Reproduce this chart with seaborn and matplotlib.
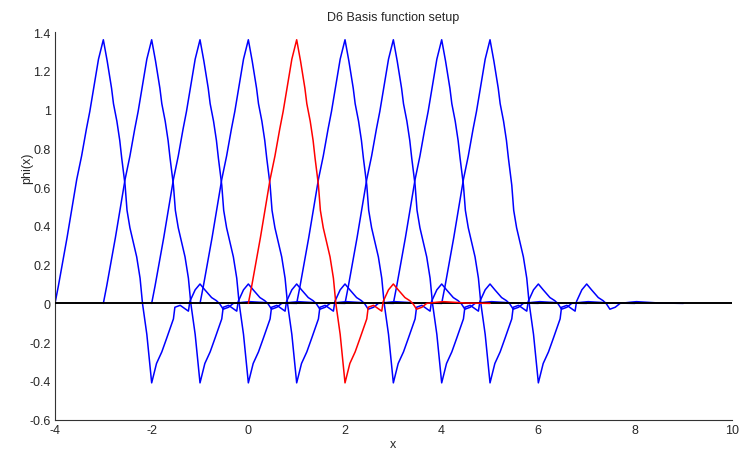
import numpy as np
import pandas as pd
import matplotlib
matplotlib.use("Agg")
import matplotlib.pyplot as plt
import seaborn as sns

# D6 scaling function phi(x) on its support [0, 5]
phi_x = [0.00, 0.07, 0.25, 0.45, 0.55, 0.65, 0.72, 0.80, 0.90, 1.00,
         1.08, 1.17, 1.21, 1.28, 1.34, 1.38, 1.45, 1.49, 1.55, 1.69,
         1.76, 1.81, 1.90, 2.00, 2.10, 2.21, 2.31, 2.45, 2.48, 2.59,
         2.76, 2.79, 2.90, 3.00, 3.10, 3.24, 3.34, 3.41, 3.48, 3.59,
         3.69, 3.90, 4.03, 4.50, 5.00]
phi_y = [0.00, 0.09, 0.34, 0.64, 0.76, 0.90, 0.99, 1.11, 1.26, 1.36,
         1.25, 1.11, 1.03, 0.94, 0.84, 0.75, 0.61, 0.48, 0.39, 0.24,
         0.13, 0.00, -0.16, -0.41, -0.31, -0.25, -0.18, -0.08, -0.02, -0.01,
         -0.04, 0.01, 0.07, 0.10, 0.07, 0.03, 0.014, -0.003, -0.03, -0.02,
         0.00, 0.006, 0.009, 0.002, 0.00]

# integer translates phi(x - k)
shifts = [-4, -3, -2, -1, 0, 1, 2, 3, 4]
highlight = 0

x_ticks = [-4, -2, 0, 2, 4, 6, 8, 10]
y_ticks = [-0.6, -0.4, -0.2, 0, 0.2, 0.4, 0.6, 0.8, 1, 1.2, 1.4]
y_tick_labels = ["-0.6", "-0.4", "-0.2", "0", "0.2", "0.4", "0.6", "0.8", "1", "1.2", "1.4"]

frames = []
for k in shifts:
    frames.append(pd.DataFrame({"x": np.asarray(phi_x) + k,
                                "phi": phi_y,
                                "shift": k}))
df = pd.concat(frames, ignore_index=True)

sns.set_style("white")
plt.rcParams["font.family"] = ["Liberation Sans", "DejaVu Sans"]

fig = plt.figure(figsize=(7.40, 4.52), dpi=100)
ax = fig.add_axes([55 / 740, 31.3 / 452, 676.7 / 740, 387.7 / 452])

blue = df[df["shift"] != highlight]
sns.lineplot(data=blue, x="x", y="phi", units="shift", estimator=None,
             color="#0000ff", lw=1.1, sort=False, ax=ax)
ax.axhline(0, color="black", lw=1.4, zorder=3)
red = df[df["shift"] == highlight]
sns.lineplot(data=red, x="x", y="phi", estimator=None,
             color="#ff0000", lw=1.1, sort=False, ax=ax, zorder=4)

ax.set_xlim(-4, 10)
ax.set_ylim(-0.6, 1.4)
ax.set_xticks(x_ticks)
ax.set_xticklabels([str(t) for t in x_ticks])
ax.set_yticks(y_ticks)
ax.set_yticklabels(y_tick_labels)
ax.tick_params(direction="in", length=5, width=0.8, color="#333333",
               labelsize=9, pad=3)
for side in ("top", "right"):
    ax.spines[side].set_visible(False)
for side in ("left", "bottom"):
    ax.spines[side].set_color("#333333")
    ax.spines[side].set_linewidth(0.8)

ax.set_title("D6 Basis function setup", fontsize=9, pad=9)
ax.set_xlabel("x", fontsize=9)
ax.set_ylabel("phi(x)", fontsize=9)
ax.xaxis.set_label_coords(0.5, -0.046)
ax.yaxis.set_label_coords(-0.032, 0.652)

fig.savefig("out.png", dpi=100)
